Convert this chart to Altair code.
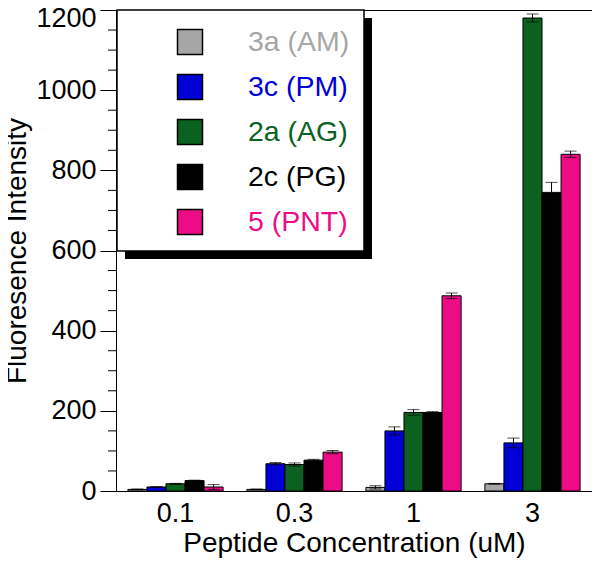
import altair as alt
import pandas as pd

concentrations = ["0.1", "0.3", "1", "3"]
series_names = ["3a (AM)", "3c (PM)", "2a (AG)", "2c (PG)", "5 (PNT)"]
series_colors = ["#a6a6a6", "#0000d6", "#0b611f", "#000000", "#ee0c86"]

values_3a = [4, 4, 9, 18]
errors_3a = [1, 1, 4, 1]
values_3c = [10, 68, 150, 120]
errors_3c = [1, 3, 10, 12]
values_2a = [18, 66, 196, 1180]
errors_2a = [1, 4, 7, 10]
values_2c = [26, 77, 196, 745]
errors_2c = [1, 2, 2, 25]
values_5 = [10, 97, 487, 840]
errors_5 = [6, 4, 7, 8]

y_major_ticks = [0, 200, 400, 600, 800, 1000, 1200]
y_minor_ticks = [50, 100, 150, 250, 300, 350, 450, 500, 550, 650, 700, 750,
                 850, 900, 950, 1050, 1100, 1150]

all_values = [values_3a, values_3c, values_2a, values_2c, values_5]
all_errors = [errors_3a, errors_3c, errors_2a, errors_2c, errors_5]

rows = []
for s, vals, errs in zip(series_names, all_values, all_errors):
    for c, v, e in zip(concentrations, vals, errs):
        rows.append({"conc": c, "series": s, "value": v, "lo": v - e, "hi": v + e})
df = pd.DataFrame(rows)
legend_df = pd.DataFrame({"series": series_names})
minor_df = pd.DataFrame({"tick": y_minor_ticks})
box_df = pd.DataFrame({"k": [0]})

FONT = "Liberation Sans"

x_main = alt.X(
    "conc:N",
    sort=concentrations,
    scale=alt.Scale(paddingInner=0.2, paddingOuter=0.1),
    axis=alt.Axis(
        title="Peptide Concentration (uM)",
        labelAngle=0,
        ticks=False,
        labelFontSize=27,
        titleFontSize=28,
        labelPadding=9,
        titlePadding=3,
    ),
)
x_plain = alt.X("conc:N", sort=concentrations)
xo = alt.XOffset(
    "series:N",
    sort=series_names,
    scale=alt.Scale(domain=series_names, paddingInner=0, paddingOuter=0),
)
yscale = alt.Scale(domain=[0, 1200], nice=False)
color = alt.Color(
    "series:N",
    scale=alt.Scale(domain=series_names, range=series_colors),
    legend=None,
)

bars = alt.Chart(df).mark_bar(stroke="black", strokeWidth=1).encode(
    x=x_main,
    xOffset=xo,
    y=alt.Y(
        "value:Q",
        scale=yscale,
        axis=alt.Axis(
            title="Fluoresence Intensity",
            values=y_major_ticks,
            format="d",
            tickSize=16,
            labelFontSize=27,
            titleFontSize=28,
            labelPadding=4,
            labelOffset={"condition": {"test": "datum.value === 1200", "value": 8}, "value": 0},
            titlePadding=4,
        ),
    ),
    color=color,
)
minor = alt.Chart(minor_df).mark_rule(color="black", strokeWidth=1).encode(
    y=alt.Y("tick:Q", scale=yscale), x=alt.value(-8), x2=alt.value(0)
)
rules = alt.Chart(df).mark_rule(color="black", strokeWidth=1).encode(
    x=x_plain, xOffset=xo, y=alt.Y("lo:Q", scale=yscale), y2="hi:Q"
)
caps_lo = alt.Chart(df).mark_tick(color="black", size=12, thickness=1, orient="horizontal").encode(
    x=x_plain, xOffset=xo, y=alt.Y("lo:Q", scale=yscale)
)
caps_hi = alt.Chart(df).mark_tick(color="black", size=12, thickness=1, orient="horizontal").encode(
    x=x_plain, xOffset=xo, y=alt.Y("hi:Q", scale=yscale)
)
main = alt.layer(bars, minor, rules, caps_lo, caps_hi)

ly = alt.Y(
    "series:N",
    sort=series_names,
    scale=alt.Scale(domain=series_names, range=[32, 212], padding=0),
    axis=None,
)
shadow = alt.Chart(box_df).mark_rect(color="black").encode(
    x=alt.value(9), x2=alt.value(256), y=alt.value(8), y2=alt.value(249)
)
box = alt.Chart(box_df).mark_rect(fill="white", stroke="black", strokeWidth=1.5).encode(
    x=alt.value(1), x2=alt.value(248), y=alt.value(0), y2=alt.value(241)
)
squares = alt.Chart(legend_df).mark_square(size=625, stroke="black", strokeWidth=1.5, opacity=1).encode(
    x=alt.value(74), y=ly, color=color
)
texts = alt.Chart(legend_df).mark_text(align="left", baseline="middle", fontSize=28.5, font=FONT).encode(
    x=alt.value(132), y=ly, text="series:N", color=color
)
legend = alt.layer(shadow, box, squares, texts)

chart = (
    alt.layer(main, legend)
    .resolve_scale(y="independent")
    .properties(
        width=476,
        height=481,
        autosize=alt.AutoSizeParams(type="none"),
        padding={"left": 108, "top": 2, "right": 0, "bottom": 68},
    )
    .configure_view(stroke="black", strokeWidth=1)
    .configure_axis(
        labelFont=FONT,
        titleFont=FONT,
        labelColor="black",
        titleColor="black",
        titleFontWeight="normal",
        domainColor="black",
        tickColor="black",
        domainWidth=1,
        tickWidth=1,
        grid=False,
    )
)

chart.save("out.html", embed_options={"renderer": "svg", "actions": False})
